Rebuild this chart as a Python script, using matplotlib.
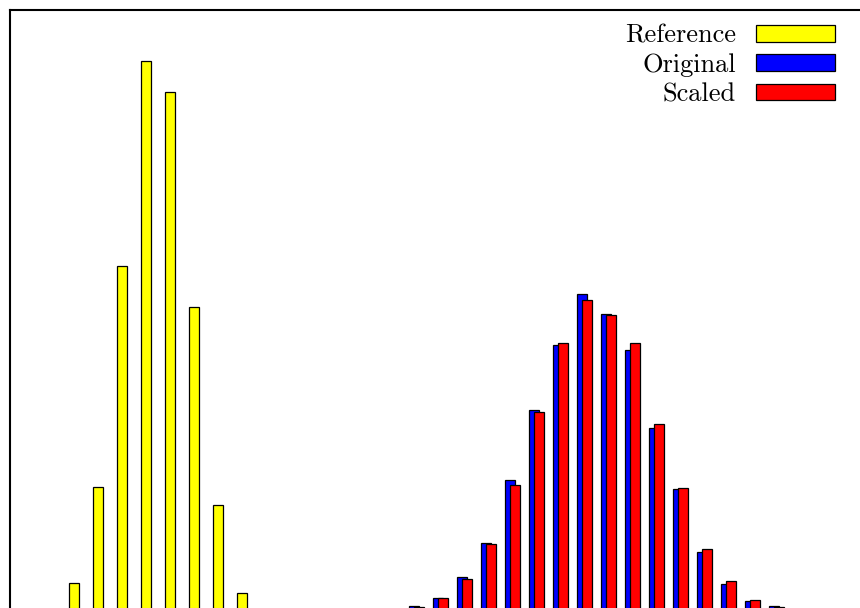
import numpy as np
import matplotlib
matplotlib.use("Agg")
import matplotlib.pyplot as plt

plt.rcParams['font.family'] = 'cmr10'
plt.rcParams['axes.formatter.use_mathtext'] = True

# bin indices and bar heights
ref_bins = np.arange(0, 8)
ref_vals = [0.027, 0.123, 0.344, 0.549, 0.518, 0.303, 0.105, 0.017]

mod_bins = np.arange(14, 30)
orig_vals = [0.004, 0.012, 0.033, 0.067, 0.130, 0.200, 0.265, 0.316,
             0.296, 0.260, 0.182, 0.121, 0.058, 0.026, 0.009, 0.004]
scaled_vals = [0.003, 0.012, 0.031, 0.066, 0.125, 0.198, 0.267, 0.310,
               0.295, 0.267, 0.186, 0.122, 0.061, 0.029, 0.010, 0.003]

W, H = 860, 608
fig = plt.figure(figsize=(W / 100, H / 100), dpi=100)
# frame runs off the bottom and right edge of the canvas
ax = fig.add_axes([10 / W, -2 / H, 860 / W, 600 / H])

bw = 0.42
ax.bar(ref_bins - 0.15, ref_vals, bw, color='#ffff00', edgecolor='black', lw=0.9, label='Reference')
ax.bar(mod_bins, orig_vals, bw, color='#0000ff', edgecolor='black', lw=0.9, label='Original')
ax.bar(mod_bins + 0.2, scaled_vals, bw, color='#ff0000', edgecolor='black', lw=0.9, label='Scaled')

ax.set_xlim(-2.83, 33.0)
ax.set_ylim(0, 0.6)
ax.set_xticks([])
ax.set_yticks([])
for s in ax.spines.values():
    s.set_linewidth(1.5)

ax.legend(loc='upper right', bbox_to_anchor=(835 / W, 1 - 24 / H), bbox_transform=fig.transFigure,
          frameon=False, markerfirst=False, fontsize=19, borderpad=0, borderaxespad=0,
          handlelength=3.0, handleheight=0.6, handletextpad=0.76, labelspacing=0.21)

fig.savefig('out.png', dpi=100)
